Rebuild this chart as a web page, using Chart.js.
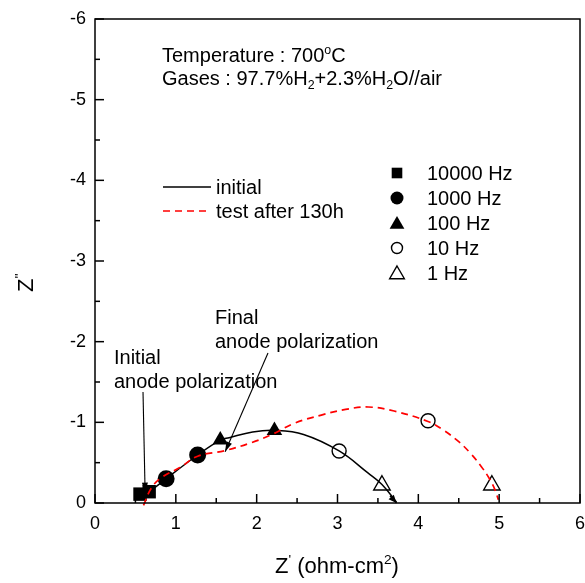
<!DOCTYPE html>
<html><head><meta charset="utf-8">
<script src="https://cdn.jsdelivr.net/npm/chart.js@4.4.1/dist/chart.umd.min.js"></script>
<style>html,body{margin:0;padding:0;background:#fff}#w{width:585px;height:583px}</style>
</head><body><div id="w"><canvas id="c" width="585" height="583"></canvas></div>
<script>
// ---- data (Z' in ohm-cm2, Z'' in ohm-cm2; Z'' negative upwards) ----
const xTickValues = [0, 1, 2, 3, 4, 5, 6];
const yTickValues = [0, -1, -2, -3, -4, -5, -6];

const initialX = [0.62, 0.67, 0.88, 1.27, 1.55, 1.66, 1.95, 2.22, 2.58, 3.02, 3.38, 3.55, 3.73];
const initialY = [-0.06, -0.13, -0.30, -0.595, -0.78, -0.81, -0.88, -0.90, -0.85, -0.645, -0.37, -0.23, -0.01];

const after130hX = [0.60, 0.70, 0.83, 1.05, 1.27, 1.61, 1.94, 2.19, 2.47, 2.80, 3.10, 3.38, 3.70, 4.12, 4.30, 4.50, 4.65, 4.78, 4.88, 4.95, 4.99];
const after130hY = [0.03, -0.19, -0.32, -0.44, -0.58, -0.65, -0.75, -0.85, -0.99, -1.09, -1.16, -1.19, -1.14, -1.01, -0.91, -0.76, -0.61, -0.45, -0.30, -0.16, -0.04];

const hz10000X = [0.557, 0.67];  const hz10000Y = [-0.11, -0.14];
const hz1000X  = [0.88, 1.27];   const hz1000Y  = [-0.30, -0.595];
const hz100X   = [1.55, 2.22];   const hz100Y   = [-0.78, -0.90];
const hz10X    = [3.02, 4.12];   const hz10Y    = [-0.645, -1.02];
const hz1X     = [3.55, 4.91];   const hz1Y     = [-0.22, -0.22];

const seriesLabels = ['initial', 'test after 130h'];
const freqLabels = ['10000 Hz', '1000 Hz', '100 Hz', '10 Hz', '1 Hz'];

// annotation arrows in data coordinates [fromX, fromY, toX, toY]
const arrowInitial = [0.594, -1.376, 0.62, -0.128];
const arrowFinal   = [2.14, -1.86, 1.61, -0.636];
const arrowEnd     = [3.65, -0.09, 3.73, 0.0];

const pts = (xs, ys) => xs.map((x, i) => ({x: x, y: ys[i]}));

const FONT = '"Liberation Sans", Arial, Helvetica, sans-serif';

function richText(ctx, parts, x, y, size, align) {
  const measure = p => {
    ctx.font = (p.s ? size * 0.62 : size) + 'px ' + FONT;
    return ctx.measureText(p.t).width;
  };
  let total = 0;
  parts.forEach(p => total += measure(p));
  let cx = x;
  if (align === 'center') cx = x - total / 2;
  ctx.textBaseline = 'alphabetic';
  ctx.textAlign = 'left';
  parts.forEach(p => {
    const w = measure(p);
    let dy = 0;
    if (p.s === 'sup') dy = -size * 0.42;
    if (p.s === 'sub') dy = size * 0.22;
    ctx.fillText(p.t, cx, y + dy);
    cx += w;
  });
}

function marker(ctx, style, x, y, r, filled) {
  ctx.beginPath();
  if (style === 'rect') {
    const s = Math.SQRT1_2 * r;
    ctx.rect(x - s, y - s, 2 * s, 2 * s);
  } else if (style === 'circle') {
    ctx.arc(x, y, r, 0, Math.PI * 2);
  } else {
    let rad = 0;
    ctx.moveTo(x + Math.sin(rad) * r, y - Math.cos(rad) * r);
    rad += 2 * Math.PI / 3;
    ctx.lineTo(x + Math.sin(rad) * r, y - Math.cos(rad) * r);
    rad += 2 * Math.PI / 3;
    ctx.lineTo(x + Math.sin(rad) * r, y - Math.cos(rad) * r);
  }
  ctx.closePath();
  if (filled) { ctx.fillStyle = '#000'; ctx.fill(); }
  else { ctx.strokeStyle = '#000'; ctx.lineWidth = 1.4; ctx.stroke(); }
}

function arrow(ctx, x0, y0, x1, y1, len, hw) {
  ctx.beginPath(); ctx.moveTo(x0, y0); ctx.lineTo(x1, y1); ctx.stroke();
  const a = Math.atan2(y1 - y0, x1 - x0);
  ctx.beginPath();
  ctx.moveTo(x1, y1);
  ctx.lineTo(x1 - len * Math.cos(a) + hw * Math.sin(a), y1 - len * Math.sin(a) - hw * Math.cos(a));
  ctx.lineTo(x1 - len * Math.cos(a) - hw * Math.sin(a), y1 - len * Math.sin(a) + hw * Math.cos(a));
  ctx.closePath(); ctx.fill();
}

const decor = {
  id: 'decor',
  afterDraw(chart) {
    const ctx = chart.ctx, a = chart.chartArea, xs = chart.scales.x, ys = chart.scales.y;
    ctx.save();
    ctx.strokeStyle = '#000'; ctx.fillStyle = '#000'; ctx.lineWidth = 1.5;
    ctx.strokeRect(a.left, a.top, a.right - a.left, a.bottom - a.top);
    xs.ticks.forEach(t => {
      const p = xs.getPixelForValue(t.value);
      const l = Number.isInteger(t.value) ? 9 : 5;
      ctx.beginPath(); ctx.moveTo(p, a.bottom); ctx.lineTo(p, a.bottom - l); ctx.stroke();
    });
    ys.ticks.forEach(t => {
      const p = ys.getPixelForValue(t.value);
      const l = Number.isInteger(t.value) ? 9 : 5;
      ctx.beginPath(); ctx.moveTo(a.left, p); ctx.lineTo(a.left + l, p); ctx.stroke();
    });
    ctx.font = '18px ' + FONT; ctx.textAlign = 'center'; ctx.textBaseline = 'middle';
    xTickValues.forEach(v => ctx.fillText(String(v), xs.getPixelForValue(v), a.bottom + 21));

    ctx.lineWidth = 1.1;
    [arrowInitial, arrowFinal].forEach(ar => {
      arrow(ctx, xs.getPixelForValue(ar[0]), ys.getPixelForValue(ar[1]),
                 xs.getPixelForValue(ar[2]), ys.getPixelForValue(ar[3]), 10, 3);
    });
    ctx.lineWidth = 1.5;
    arrow(ctx, xs.getPixelForValue(arrowEnd[0]), ys.getPixelForValue(arrowEnd[1]),
               xs.getPixelForValue(arrowEnd[2]), ys.getPixelForValue(arrowEnd[3]), 8, 3.5);

    ctx.fillStyle = '#000';
    richText(ctx, [{t: 'Temperature : 700'}, {t: 'o', s: 'sup'}, {t: 'C'}], 162, 62, 20);
    richText(ctx, [{t: 'Gases : 97.7%H'}, {t: '2', s: 'sub'}, {t: '+2.3%H'}, {t: '2', s: 'sub'}, {t: 'O//air'}], 162, 85, 20);

    richText(ctx, [{t: 'Initial'}], 114, 364, 20);
    richText(ctx, [{t: 'anode polarization'}], 114, 388, 20);
    richText(ctx, [{t: 'Final'}], 215, 324, 20);
    richText(ctx, [{t: 'anode polarization'}], 215, 348, 20);

    ctx.strokeStyle = '#000'; ctx.lineWidth = 1.5;
    ctx.beginPath(); ctx.moveTo(163, 187); ctx.lineTo(211, 187); ctx.stroke();
    ctx.strokeStyle = '#ff0000'; ctx.setLineDash([7, 5]);
    ctx.beginPath(); ctx.moveTo(163, 211); ctx.lineTo(211, 211); ctx.stroke();
    ctx.setLineDash([]);
    ctx.fillStyle = '#000';
    richText(ctx, [{t: seriesLabels[0]}], 216, 194, 20);
    richText(ctx, [{t: seriesLabels[1]}], 216, 218, 20);

    const styles = [['rect', 7.5, true], ['circle', 6.5, true], ['triangle', 8.5, true], ['circle', 5.5, false], ['triangle', 8.5, false]];
    const rowY = [173, 198, 223, 248, 273];
    styles.forEach((s, i) => {
      marker(ctx, s[0], 397, rowY[i] + (s[0] === 'triangle' ? 1.5 : 0), s[1], s[2]);
      ctx.fillStyle = '#000';
      richText(ctx, [{t: freqLabels[i]}], 427, rowY[i] + 7, 20);
    });

    richText(ctx, [{t: 'Z'}, {t: "'", s: 'sup'}, {t: ' (ohm-cm'}, {t: '2', s: 'sup'}, {t: ')'}], 337, 573, 22, 'center');
    ctx.save();
    ctx.translate(33, 292);
    ctx.rotate(-Math.PI / 2);
    richText(ctx, [{t: 'Z'}, {t: "''", s: 'sup'}], 0, 0, 22);
    ctx.restore();
    ctx.restore();
  }
};

const tickFont = {family: FONT, size: 18};

new Chart(document.getElementById('c'), {
  type: 'scatter',
  data: {
    datasets: [
      {label: seriesLabels[1], data: pts(after130hX, after130hY), showLine: true, borderColor: '#ff0000',
       borderWidth: 1.7, borderDash: [7, 5], pointRadius: 0, tension: 0.4, fill: false, clip: false, order: 0},
      {label: seriesLabels[0], data: pts(initialX, initialY), showLine: true, borderColor: '#000',
       borderWidth: 1.5, pointRadius: 0, tension: 0.4, fill: false, order: 1},
      {label: freqLabels[0], data: pts(hz10000X, hz10000Y), pointStyle: 'rect', pointRadius: 9.5,
       backgroundColor: '#000', borderColor: '#000', borderWidth: 0, order: 2},
      {label: freqLabels[1], data: pts(hz1000X, hz1000Y), pointStyle: 'circle', pointRadius: 8.5,
       backgroundColor: '#000', borderColor: '#000', borderWidth: 0, order: 2},
      {label: freqLabels[2], data: pts(hz100X, hz100Y), pointStyle: 'triangle', pointRadius: 9,
       backgroundColor: '#000', borderColor: '#000', borderWidth: 0, order: 2},
      {label: freqLabels[3], data: pts(hz10X, hz10Y), pointStyle: 'circle', pointRadius: 7,
       backgroundColor: 'rgba(0,0,0,0)', borderColor: '#000', borderWidth: 1.4, order: 2},
      {label: freqLabels[4], data: pts(hz1X, hz1Y), pointStyle: 'triangle', pointRadius: 9.5,
       backgroundColor: 'rgba(0,0,0,0)', borderColor: '#000', borderWidth: 1.4, order: 2}
    ]
  },
  options: {
    responsive: false, animation: false, devicePixelRatio: 1,
    layout: {autoPadding: false, padding: {top: 19, right: 5, left: 0, bottom: 0}},
    plugins: {legend: {display: false}, tooltip: {enabled: false}},
    scales: {
      x: {
        type: 'linear', min: xTickValues[0], max: xTickValues[xTickValues.length - 1],
        grid: {display: false, drawTicks: false}, border: {display: false},
        ticks: {display: false, stepSize: 0.5, autoSkip: false, maxRotation: 0},
        afterFit: s => { s.height = 80; s.paddingLeft = 0; s.paddingRight = 0; }
      },
      y: {
        type: 'linear', reverse: true,
        min: yTickValues[yTickValues.length - 1], max: yTickValues[0],
        grid: {display: false, drawTicks: false}, border: {display: false},
        ticks: {stepSize: 0.5, autoSkip: false, color: '#000', font: tickFont, padding: 9,
                callback: v => yTickValues.includes(v) ? String(v) : ''},
        afterFit: s => { s.width = 95; s.paddingTop = 0; s.paddingBottom = 0; }
      }
    }
  },
  plugins: [decor]
});
</script></body></html>
